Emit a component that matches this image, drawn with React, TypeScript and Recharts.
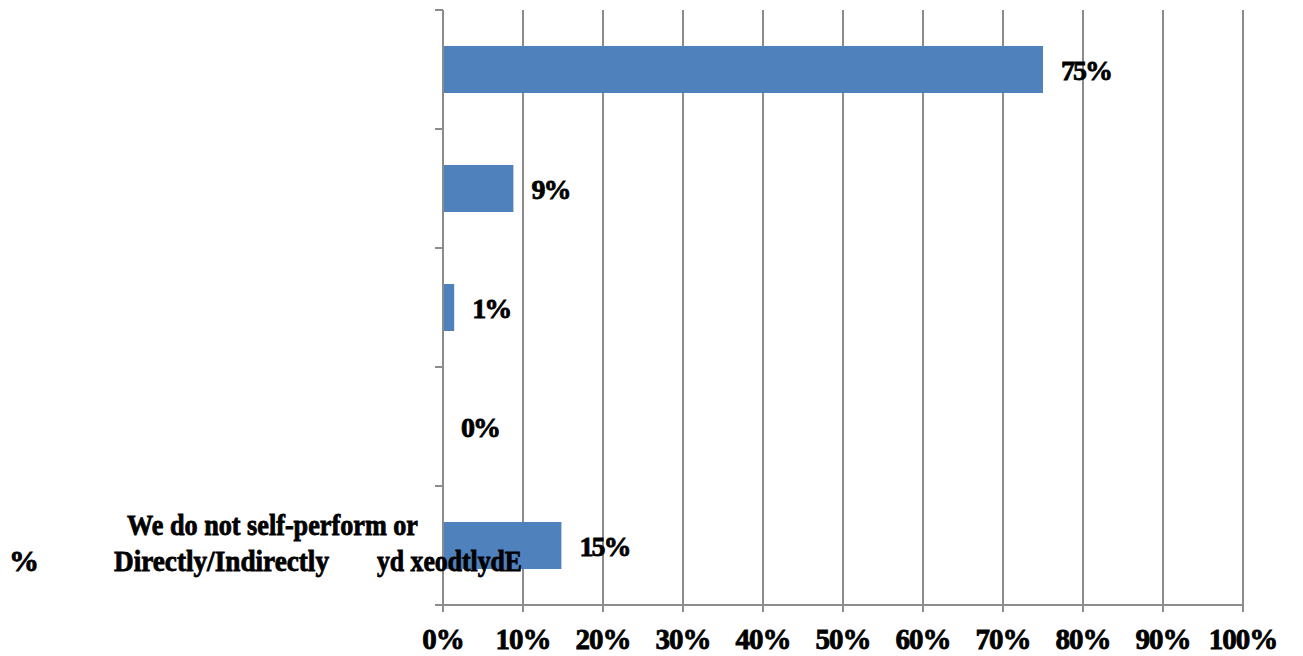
import { BarChart, Bar, XAxis, YAxis, CartesianGrid, LabelList } from "recharts";

// category ids, top to bottom; only the last one carries a visible label
const CATEGORIES = ["c1", "c2", "c3", "c4", "c5"];
const VALUES = [75, 8.8, 1.4, 0, 14.8];
const X_TICKS = [0, 10, 20, 30, 40, 50, 60, 70, 80, 90, 100];

// bottom category label, as it shows in the picture
const LABEL_LINE1 = "We do not self-perform or";
const LABEL_LINE2 = ["%", "Directly/Indirectly", "yd xeodtlydE"];

const data = CATEGORIES.map((id, i) => ({ id, value: VALUES[i] }));

const FONT = "'Liberation Serif', 'Times New Roman', serif";
const GRID = "#8c8c8c";
const HEAVY = { fontFamily: FONT, fontWeight: 700, fill: "#000", stroke: "#000", strokeWidth: 0.8 };

// draws the band-edge tick marks (Excel style) and the only visible label
function CategoryTick(props: any) {
  const { x, y, index, payload } = props;
  const half = payload?.offset ?? 0;
  const last = index === CATEGORIES.length - 1;
  const common = { ...HEAVY, fontSize: 29, lengthAdjust: "spacingAndGlyphs" as const };
  return (
    <g>
      <line x1={x - 8} x2={x} y1={y - half} y2={y - half} stroke={GRID} strokeWidth={2} />
      {last && (
        <g>
          <line x1={x - 8} x2={x} y1={y + half} y2={y + half} stroke={GRID} strokeWidth={2} />
          <text {...common} x={119} y={y - 11} textLength={291}>
            {LABEL_LINE1}
          </text>
          <text {...common} x={1} y={y + 25} textLength={30}>
            {LABEL_LINE2[0]}
          </text>
          <text {...common} x={106} y={y + 25} textLength={215}>
            {LABEL_LINE2[1]}
          </text>
          <text {...common} x={369} y={y + 25} textLength={145}>
            {LABEL_LINE2[2]}
          </text>
        </g>
      )}
    </g>
  );
}

function ValueLabel(props: any) {
  const { x, y, width, height, value } = props;
  return (
    <text
      {...HEAVY}
      fontSize={28}
      letterSpacing={-2}
      x={Number(x) + Number(width) + 18}
      y={Number(y) + Number(height) / 2}
      dy={10}
    >
      {`${Math.round(Number(value))}%`}
    </text>
  );
}

export default function App() {
  return (
    <BarChart
      width={1295}
      height={648}
      data={data}
      layout="vertical"
      margin={{ top: 2, right: 60, bottom: 11, left: 0 }}
    >
      <CartesianGrid horizontal={false} stroke={GRID} strokeWidth={2} />
      <XAxis
        type="number"
        domain={[0, 100]}
        ticks={X_TICKS}
        interval={0}
        height={40}
        tickFormatter={(v: number) => `${v}%`}
        axisLine={{ stroke: GRID, strokeWidth: 2 }}
        tickLine={{ stroke: GRID, strokeWidth: 2 }}
        tickSize={7}
        tickMargin={16}
        tick={{ ...HEAVY, fontSize: 29, letterSpacing: -1 }}
      />
      <YAxis
        type="category"
        dataKey="id"
        width={435}
        axisLine={{ stroke: GRID, strokeWidth: 2 }}
        tickLine={false}
        tickSize={0}
        tickMargin={0}
        interval={0}
        tick={<CategoryTick />}
      />
      <Bar
        dataKey="value"
        fill="#4F81BD"
        barSize={47}
        minPointSize={(v: number) => (v === 0 ? 0.01 : 0)}
        isAnimationActive={false}
      >
        <LabelList dataKey="value" content={<ValueLabel />} />
      </Bar>
    </BarChart>
  );
}
